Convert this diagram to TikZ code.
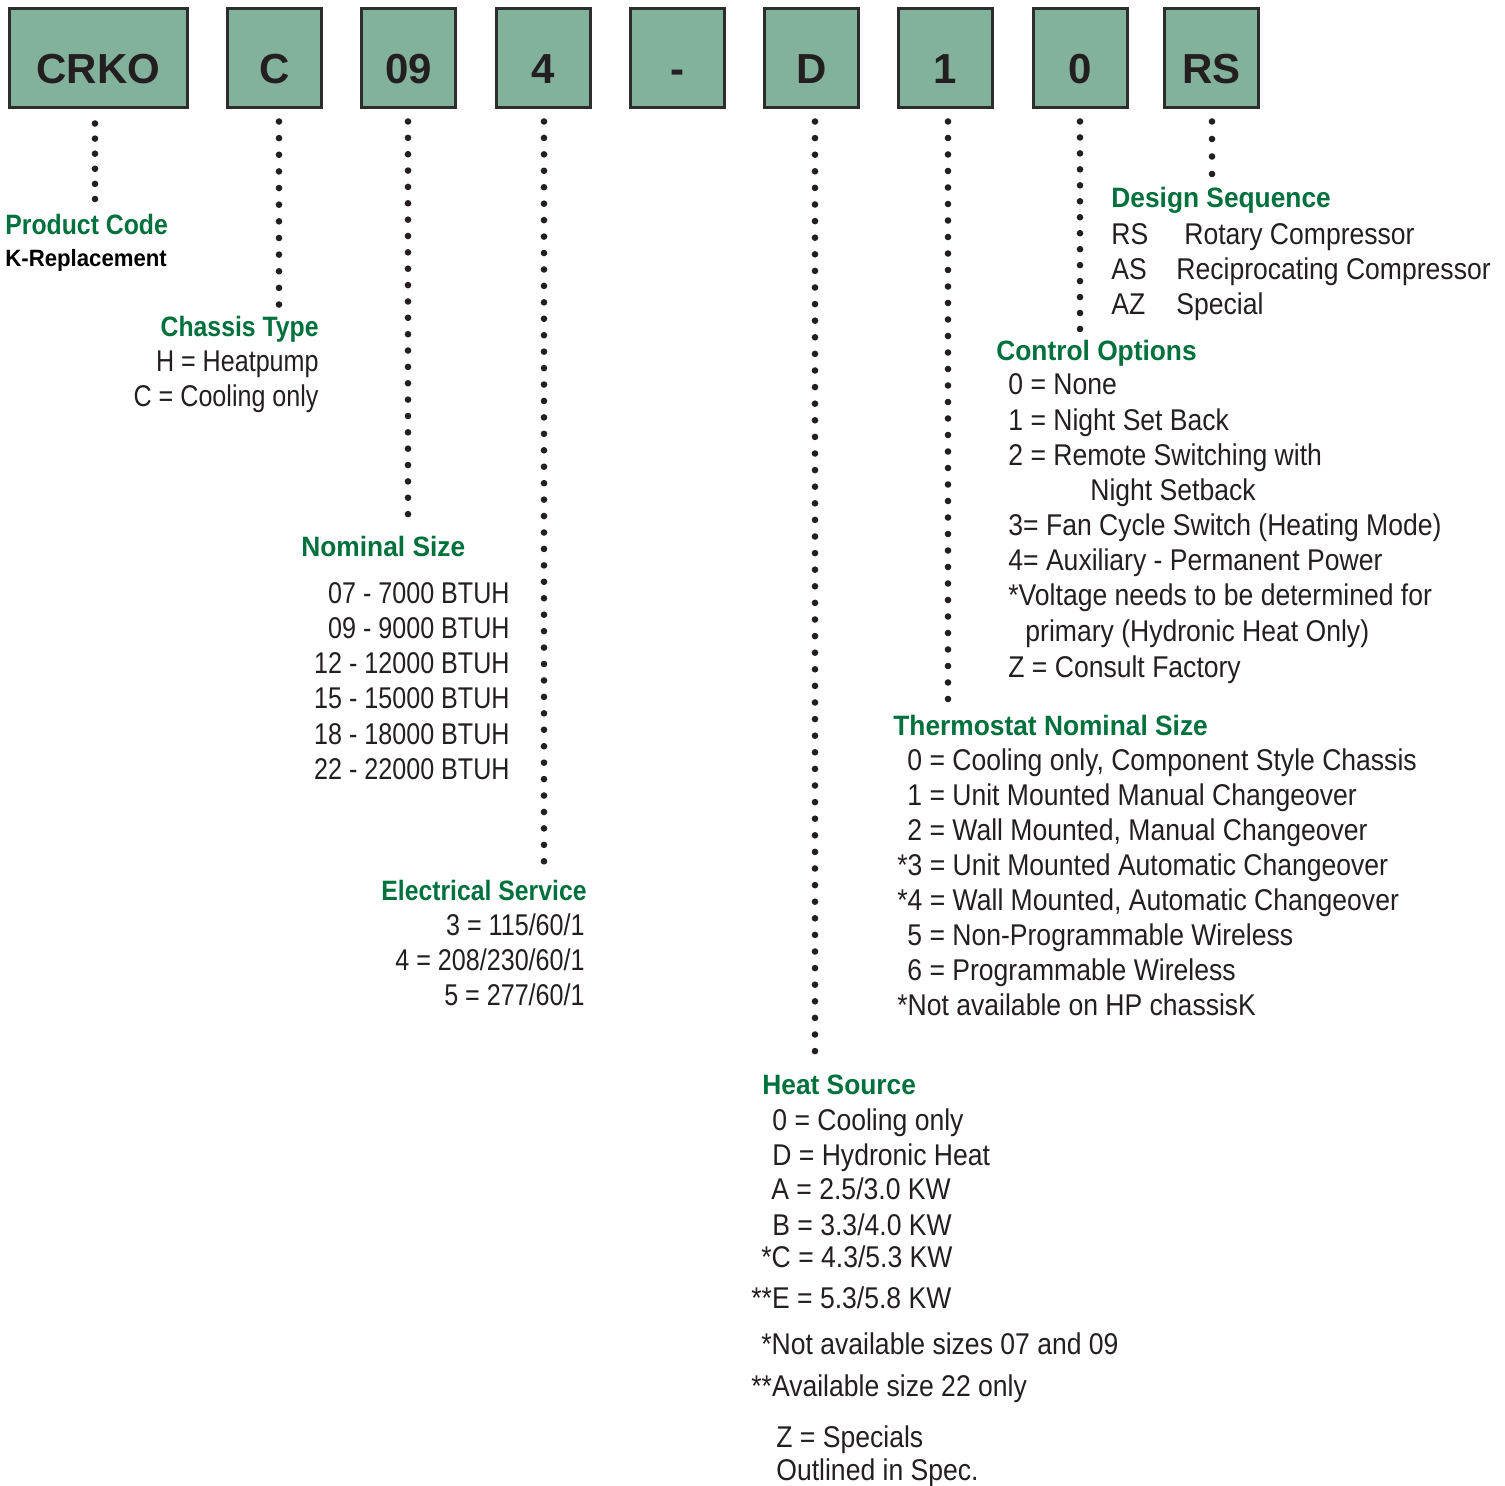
\documentclass[tikz,border=0pt]{standalone}
\usepackage{fontspec}
\setmainfont{Liberation Sans}[FakeStretch=0.885]
\newfontfamily\narrowfont{Liberation Sans}[FakeStretch=0.837]
\newfontfamily\widefont{Liberation Sans}[FakeStretch=0.94]
\newfontfamily\boxfont{Liberation Sans}
\usetikzlibrary{calc}
\definecolor{boxfill}{RGB}{130,178,156}
\definecolor{boxline}{RGB}{45,45,45}
\definecolor{ttlgreen}{RGB}{0,112,60}
\definecolor{txtc}{RGB}{35,31,32}
\tikzset{
  codebox/.style={draw=boxline, line width=1.5pt, fill=boxfill, inner sep=0pt, minimum height=49.5pt},
  boxtxt/.style={inner sep=0pt, anchor=base, font=\boxfont\fontsize{21}{24}\selectfont\bfseries, text=txtc},
  txt/.style={inner sep=0pt, anchor=base west, font=\fontsize{15}{18}\selectfont, text=txtc},
  txtr/.style={txt, anchor=base east},
  ntxtr/.style={txt, anchor=base east, font=\narrowfont\fontsize{15}{18}\selectfont},
  ttl/.style={inner sep=0pt, anchor=base west, font=\widefont\fontsize{14}{17}\selectfont\bfseries, text=ttlgreen},
  ttln/.style={ttl, font=\fontsize{14}{17}\selectfont\bfseries},
  dotline/.style={line width=3.3pt, line cap=round, draw=txtc, shorten <=6.25pt}
}
\begin{document}
\begin{tikzpicture}[x=0.5pt, y=-0.5pt]
\useasboundingbox (0,0) rectangle (1505,1486);
% boxes
\node[codebox, minimum width=89pt] (b1) at (98.5,58) {};
\node[codebox, minimum width=47pt] (b2) at (274.5,58) {};
\node[codebox, minimum width=47pt] (b3) at (408.5,58) {};
\node[codebox, minimum width=47pt] (b4) at (543,58) {};
\node[codebox, minimum width=47pt] (b5) at (677,58) {};
\node[codebox, minimum width=47pt] (b6) at (811.5,58) {};
\node[codebox, minimum width=47pt] (b7) at (945.5,58) {};
\node[codebox, minimum width=47pt] (b8) at (1080,58) {};
\node[codebox, minimum width=47pt] (b9) at (1211.5,58) {};
\node[boxtxt] (t1) at ($(b1.south)+(0,-25)$) {CRKO};
\node[boxtxt] (t2) at ($(b2.south)+(0,-25)$) {C};
\node[boxtxt] (t3) at ($(b3.south)+(0,-25)$) {09};
\node[boxtxt] (t4) at ($(b4.south)+(0,-25)$) {4};
\node[boxtxt] (t5) at ($(b5.south)+(0,-25)$) {-};
\node[boxtxt] (t6) at ($(b6.south)+(0,-25)$) {D};
\node[boxtxt] (t7) at ($(b7.south)+(0,-25)$) {1};
\node[boxtxt] (t8) at ($(b8.south)+(0,-25)$) {0};
\node[boxtxt] (t9) at ($(b9.south)+(0,-25)$) {RS};
% dotted connectors
\coordinate (e1) at (95,201.5);
\coordinate (e2) at (279,307);
\coordinate (e3) at (408,516.5);
\coordinate (e4) at (544,863.5);
\coordinate (e5) at (815,1053.5);
\coordinate (e6) at (948,701.5);
\coordinate (e7) at (1080,331.5);
\coordinate (e8) at (1212,176.5);
\draw[dotline, shorten <=7.25pt, dash pattern=on 0pt off 7.55pt] (b1.south -| e1) -- (e1);
\draw[dotline, dash pattern=on 0pt off 8.32pt] (b2.south -| e2) -- (e2);
\draw[dotline, dash pattern=on 0pt off 8.18pt] (b3.south -| e3) -- (e3);
\draw[dotline, dash pattern=on 0pt off 8.22pt] (b4.south -| e4) -- (e4);
\draw[dotline, dash pattern=on 0pt off 8.3pt] (b6.south -| e5) -- (e5);
\draw[dotline, dash pattern=on 0pt off 8.25pt] (b7.south -| e6) -- (e6);
\draw[dotline, dash pattern=on 0pt off 7.98pt] (b8.south -| e7) -- (e7);
\draw[dotline, dash pattern=on 0pt off 8.75pt] (b9.south -| e8) -- (e8);
\begin{scope}[yshift=-1pt]
% Product code
\node[ttln] (pc) at (5,233) {Product Code};
\node[txt, font=\widefont\fontsize{11.8}{14}\selectfont\bfseries, text=black] (pc1) at (5,265) {K-Replacement};
% Chassis type
\node[ttln, anchor=base east] (ct) at (319,335) {Chassis Type};
\node[ntxtr] (ct1) at (319,370) {H = Heatpump};
\node[ntxtr] (ct2) at (319,405) {C = Cooling only};
% Nominal size
\node[ttl] (ns) at (301,555) {Nominal Size};
\node[ntxtr] (ns1) at (510,602) {07 - 7000 BTUH};
\node[ntxtr] (ns2) at (510,637) {09 - 9000 BTUH};
\node[ntxtr] (ns3) at (510,672) {12 - 12000 BTUH};
\node[ntxtr] (ns4) at (510,707) {15 - 15000 BTUH};
\node[ntxtr] (ns5) at (510,742) {18 - 18000 BTUH};
\node[ntxtr] (ns6) at (510,777) {22 - 22000 BTUH};
% Electrical service
\node[ttln, anchor=base east] (es) at (587,898) {Electrical Service};
\node[ntxtr] (es1) at (585,933) {3 = 115/60/1};
\node[ntxtr] (es2) at (585,968) {4 = 208/230/60/1};
\node[ntxtr] (es3) at (585,1003) {5 = 277/60/1};
% Design sequence
\node[ttl] (ds) at (1111,206) {Design Sequence};
\node[txt] (ds1a) at (1111,243) {RS};
\node[txt] (ds1b) at (1184,243) {Rotary Compressor};
\node[txt] (ds2a) at (1111,278) {AS};
\node[txt] (ds2b) at (1176,278) {Reciprocating Compressor};
\node[txt] (ds3a) at (1111,313) {AZ};
\node[txt] (ds3b) at (1176,313) {Special};
% Control options
\node[ttl] (co) at (996,359) {Control Options};
\node[txt] (co1) at (1008,393) {0 = None};
\node[txt] (co2) at (1008,429) {1 = Night Set Back};
\node[txt] (co3) at (1008,464) {2 = Remote Switching with};
\node[txt] (co4) at (1090,499) {Night Setback};
\node[txt] (co5) at (1008,534) {3= Fan Cycle Switch (Heating Mode)};
\node[txt] (co6) at (1008,569) {4= Auxiliary - Permanent Power};
\node[txt] (co7) at (1008,604) {*Voltage needs to be determined for};
\node[txt] (co8) at (1025,640) {primary (Hydronic Heat Only)};
\node[txt] (co9) at (1008,675) {Z = Consult Factory};
% Thermostat
\node[ttl] (tn) at (893,733) {Thermostat Nominal Size};
\node[txt] (tn1) at (907,768) {0 = Cooling only, Component Style Chassis};
\node[txt] (tn2) at (907,803) {1 = Unit Mounted Manual Changeover};
\node[txt] (tn3) at (907,838) {2 = Wall Mounted, Manual Changeover};
\node[txt] (tn4) at (897,873) {*3 = Unit Mounted Automatic Changeover};
\node[txt] (tn5) at (897,908) {*4 = Wall Mounted, Automatic Changeover};
\node[txt] (tn6) at (907,943) {5 = Non-Programmable Wireless};
\node[txt] (tn7) at (907,978) {6 = Programmable Wireless};
\node[txt] (tn8) at (897,1013) {*Not available on HP chassisK};
% Heat source
\node[ttl] (hs) at (762,1092) {Heat Source};
\node[txt] (hs1) at (772,1128) {0 = Cooling only};
\node[txt] (hs2) at (772,1163) {D = Hydronic Heat};
\node[txt] (hs3) at (771,1197) {A = 2.5/3.0 KW};
\node[txt] (hs4) at (772,1233) {B = 3.3/4.0 KW};
\node[txt] (hs5) at (761,1265) {*C = 4.3/5.3 KW};
\node[txt] (hs6) at (751,1306) {**E = 5.3/5.8 KW};
\node[txt] (hs7) at (761,1352) {*Not available sizes 07 and 09};
\node[txt] (hs8) at (751,1394) {**Available size 22 only};
\node[txt] (hs9) at (776,1445) {Z = Specials};
\node[txt] (hs10) at (776,1478) {Outlined in Spec.};
\end{scope}
\end{tikzpicture}
\end{document}
